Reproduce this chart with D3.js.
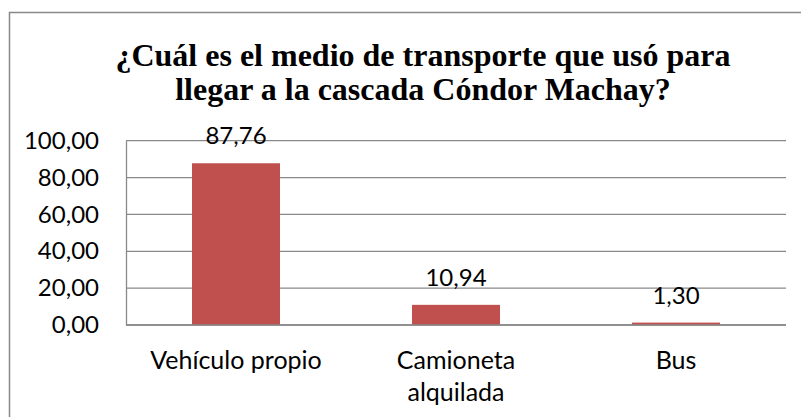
<!DOCTYPE html>
<html>
<head>
<meta charset="utf-8">
<script src="https://cdn.jsdelivr.net/npm/d3@7"></script>
<style>
  body { margin: 0; background: #fff; }
  svg { display: block; }
</style>
</head>
<body>
<div id="chart"></div>
<script>
const width = 801;
const height = 417;

// datos
const categories = ["Vehículo propio", "Camioneta alquilada", "Bus"];
const categoryLines = [["Vehículo propio"], ["Camioneta", "alquilada"], ["Bus"]];
const values = [87.76, 10.94, 1.30];
const yTicks = [0, 20, 40, 60, 80, 100];
const titleLines = ["¿Cuál es el medio de transporte que usó para", "llegar a la cascada Cóndor Machay?"];

const es = d3.formatLocale({ decimal: ",", thousands: ".", grouping: [3], currency: ["", "€"] });
const fmt = es.format(".2f");

const plot = { left: 126, right: 786, top: 140.7, bottom: 325 };
const gray = "#898989";
const labelFont = "Lato, 'Open Sans', sans-serif";

const svg = d3.select("#chart")
    .append("svg")
    .attr("width", width)
    .attr("height", height);

// marco exterior
svg.append("rect")
    .attr("x", 9.5)
    .attr("y", 12.5)
    .attr("width", 900)
    .attr("height", 500)
    .attr("fill", "none")
    .attr("stroke", gray)
    .attr("stroke-width", 1.5);

// título (una línea de texto por renglón)
svg.append("g")
    .selectAll("text")
    .data(titleLines)
    .join("text")
    .attr("x", 423)
    .attr("y", (d, i) => 66 + i * 34)
    .attr("text-anchor", "middle")
    .attr("font-family", '"Liberation Serif"')
    .attr("font-weight", "bold")
    .attr("font-size", 32)
    .text(d => d);

const x = d3.scaleBand()
    .domain(categories)
    .range([plot.left, plot.right])
    .paddingInner(0.6)
    .paddingOuter(0.3);

const y = d3.scaleLinear()
    .domain([0, 100])
    .range([plot.bottom, plot.top]);

// líneas de cuadrícula
svg.append("g")
    .selectAll("line")
    .data(yTicks)
    .join("line")
    .attr("x1", plot.left)
    .attr("x2", plot.right)
    .attr("y1", d => y(d))
    .attr("y2", d => y(d))
    .attr("stroke", gray)
    .attr("stroke-width", 1.3);

// eje Y
const yAxis = svg.append("g")
    .attr("transform", `translate(${plot.left},0)`)
    .call(d3.axisLeft(y).tickValues(yTicks).tickFormat(fmt).tickSize(0).tickPadding(27));

yAxis.select(".domain").attr("stroke", gray).attr("stroke-width", 1.3);
yAxis.selectAll("text")
    .style("font-family", labelFont)
    .style("font-size", "24px")
    .attr("fill", "#000");

// barras
svg.append("g")
    .selectAll("rect")
    .data(values)
    .join("rect")
    .attr("x", (d, i) => x(categories[i]))
    .attr("y", d => y(d))
    .attr("width", x.bandwidth())
    .attr("height", d => y(0) - y(d))
    .attr("fill", "#C0504D");

// etiquetas de datos
svg.append("g")
    .selectAll("text")
    .data(values)
    .join("text")
    .attr("x", (d, i) => x(categories[i]) + x.bandwidth() / 2)
    .attr("y", d => y(d) - 19)
    .attr("text-anchor", "middle")
    .style("font-family", labelFont)
    .style("font-size", "24px")
    .text(d => fmt(d));

// eje X (línea base)
svg.append("line")
    .attr("x1", plot.left)
    .attr("x2", plot.right)
    .attr("y1", y(0))
    .attr("y2", y(0))
    .attr("stroke", gray)
    .attr("stroke-width", 1.5);

// etiquetas de categoría
svg.append("g")
    .selectAll("text")
    .data(categories.flatMap((c, i) => categoryLines[i].map((t, j) => ({ c, t, j }))))
    .join("text")
    .attr("x", d => x(d.c) + x.bandwidth() / 2)
    .attr("y", d => 369 + d.j * 32)
    .attr("text-anchor", "middle")
    .style("font-family", labelFont)
    .style("font-size", "25px")
    .text(d => d.t);
</script>
</body>
</html>
